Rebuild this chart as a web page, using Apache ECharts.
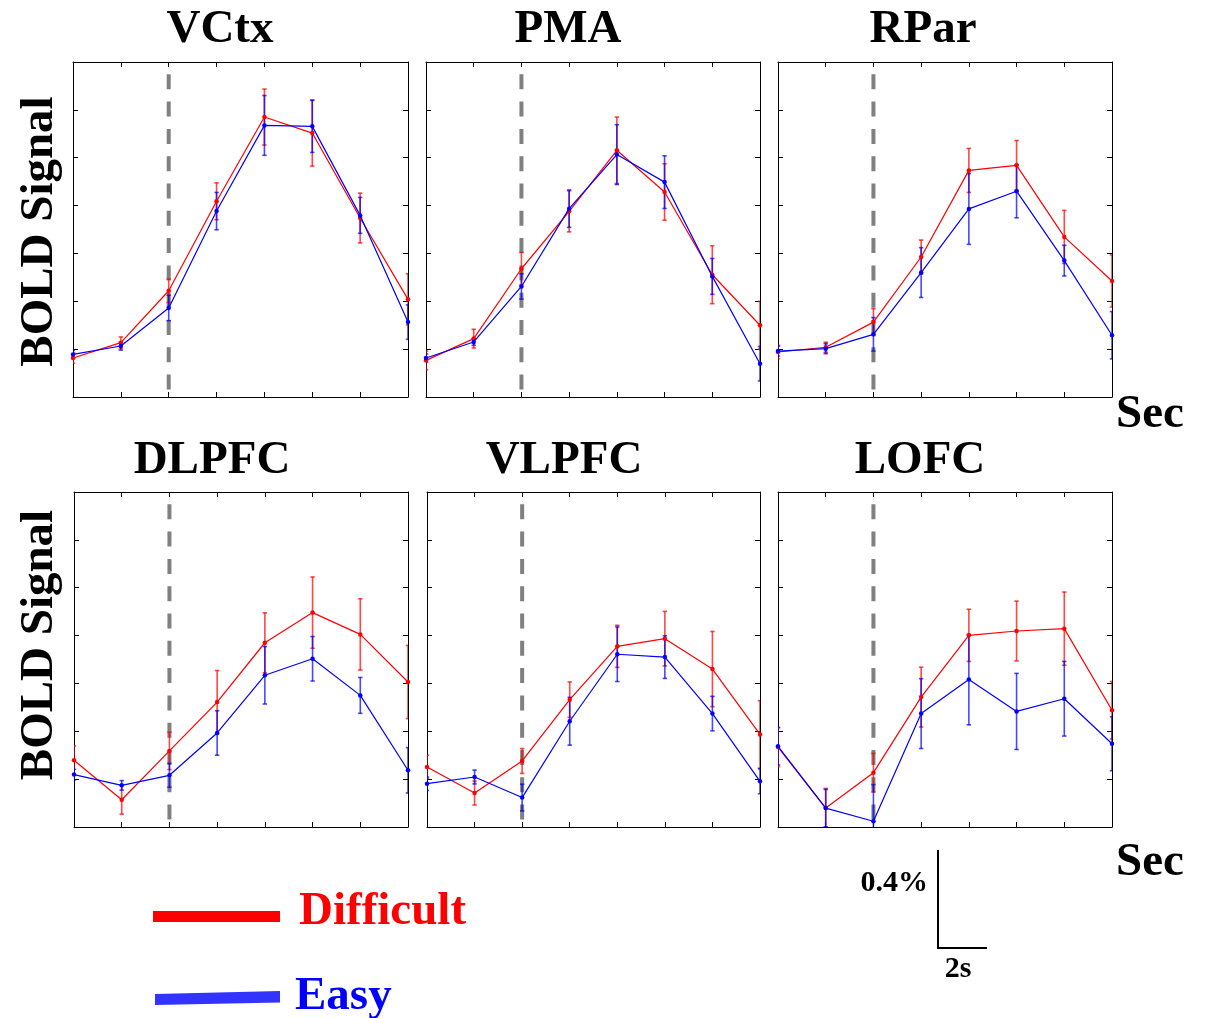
<!DOCTYPE html>
<html>
<head>
<meta charset="utf-8">
<script src="https://cdn.jsdelivr.net/npm/echarts@6/dist/echarts.min.js"></script>
<style>
html,body{margin:0;padding:0;background:#fff;}
#chart{width:1209px;height:1018px;}
</style>
</head>
<body>
<div id="chart"></div>
<script>
// ---- Data (BOLD % signal change, time in seconds) ----
const timeSec = [0, 2, 4, 6, 8, 10, 12, 14];
const onsetSec = 4;
const regions = ['VCtx', 'PMA', 'RPar', 'DLPFC', 'VLPFC', 'LOFC'];

const vctxDifficult    = [0.163, 0.227, 0.444, 0.818, 1.170, 1.103, 0.748, 0.408];
const vctxDifficultErr = [0.022, 0.024, 0.049, 0.077, 0.117, 0.138, 0.104, 0.107];
const vctxEasy         = [0.178, 0.213, 0.372, 0.777, 1.135, 1.131, 0.759, 0.313];
const vctxEasyErr      = [0.017, 0.017, 0.053, 0.078, 0.125, 0.109, 0.075, 0.072];

const pmaDifficult     = [0.153, 0.244, 0.536, 0.776, 1.031, 0.857, 0.511, 0.300];
const pmaDifficultErr  = [0.039, 0.039, 0.068, 0.086, 0.139, 0.118, 0.121, 0.100];
const pmaEasy          = [0.163, 0.230, 0.462, 0.787, 1.013, 0.898, 0.504, 0.139];
const pmaEasyErr       = [0.017, 0.014, 0.053, 0.078, 0.125, 0.110, 0.075, 0.072];

const rparDifficult    = [0.188, 0.208, 0.313, 0.585, 0.947, 0.968, 0.669, 0.485];
const rparDifficultErr = [0.028, 0.021, 0.056, 0.071, 0.092, 0.104, 0.111, 0.109];
const rparEasy         = [0.192, 0.202, 0.262, 0.520, 0.786, 0.860, 0.570, 0.258];
const rparEasyErr      = [0.021, 0.021, 0.070, 0.104, 0.148, 0.111, 0.064, 0.099];

const dlpfcDifficult    = [0.279, 0.114, 0.318, 0.522, 0.770, 0.896, 0.805, 0.606];
const dlpfcDifficultErr = [0.060, 0.060, 0.078, 0.132, 0.125, 0.149, 0.149, 0.153];
const dlpfcEasy         = [0.219, 0.174, 0.216, 0.393, 0.634, 0.703, 0.550, 0.237];
const dlpfcEasyErr      = [0.022, 0.020, 0.050, 0.093, 0.120, 0.093, 0.075, 0.095];

const vlpfcDifficult    = [0.251, 0.142, 0.276, 0.532, 0.755, 0.787, 0.660, 0.387];
const vlpfcDifficultErr = [0.049, 0.050, 0.052, 0.074, 0.088, 0.114, 0.157, 0.141];
const vlpfcEasy         = [0.181, 0.209, 0.123, 0.442, 0.722, 0.710, 0.474, 0.191];
const vlpfcEasyErr      = [0.028, 0.029, 0.056, 0.100, 0.114, 0.089, 0.072, 0.052];

const lofcDifficult    = [0.334, 0.079, 0.227, 0.543, 0.801, 0.819, 0.829, 0.488];
const lofcDifficultErr = [0.082, 0.082, 0.081, 0.125, 0.109, 0.125, 0.153, 0.120];
const lofcEasy         = [0.337, 0.079, 0.024, 0.474, 0.616, 0.483, 0.536, 0.348];
const lofcEasyErr      = [0.078, 0.078, 0.153, 0.146, 0.189, 0.159, 0.156, 0.113];

const yMin = 0, yMax = 1.4, yStep = 0.2;
const xMin = 0, xMax = 14, xStep = 2;

const difficultSets = [vctxDifficult, pmaDifficult, rparDifficult, dlpfcDifficult, vlpfcDifficult, lofcDifficult];
const difficultErrs = [vctxDifficultErr, pmaDifficultErr, rparDifficultErr, dlpfcDifficultErr, vlpfcDifficultErr, lofcDifficultErr];
const easySets = [vctxEasy, pmaEasy, rparEasy, dlpfcEasy, vlpfcEasy, lofcEasy];
const easyErrs = [vctxEasyErr, pmaEasyErr, rparEasyErr, dlpfcEasyErr, vlpfcEasyErr, lofcEasyErr];

// ---- Layout ----
const gridBoxes = [
  {left: 73,  top: 62,  width: 335, height: 335},
  {left: 426, top: 62,  width: 334, height: 335},
  {left: 778, top: 62,  width: 334, height: 335},
  {left: 74,  top: 492, width: 334, height: 335},
  {left: 427, top: 492, width: 333, height: 335},
  {left: 778, top: 492, width: 334, height: 335}
];
const titleCenters = [[220, 29.5], [568, 29.5], [923, 29.5], [212, 461], [564, 461], [920, 461]];

const RED = '#ff0000', BLUE = '#0000ff';
const SERIF = '"Liberation Serif", "Times New Roman", serif';

const grids = [], xAxes = [], yAxes = [], series = [];

function axisCommon(extra) {
  return Object.assign({
    type: 'value',
    axisLabel: {show: false},
    splitLine: {show: false},
    axisTick: {show: true, inside: true, length: 5, lineStyle: {color: '#000', width: 1}},
    axisLine: {show: true, onZero: false, lineStyle: {color: '#000', width: 1}}
  }, extra);
}

function errRender(color) {
  return function (params, api) {
    const x = api.value(0), v = api.value(1), e = api.value(2);
    const t = api.coord([x, v + e]);
    const b = api.coord([x, v - e]);
    const hw = 2.2;
    const st = {stroke: color, lineWidth: 1.6, opacity: 0.72};
    return {
      type: 'group',
      children: [
        {type: 'line', shape: {x1: t[0], y1: t[1], x2: b[0], y2: b[1]}, style: st},
        {type: 'line', shape: {x1: t[0] - hw, y1: t[1], x2: t[0] + hw, y2: t[1]}, style: st},
        {type: 'line', shape: {x1: b[0] - hw, y1: b[1], x2: b[0] + hw, y2: b[1]}, style: st}
      ]
    };
  };
}

regions.forEach(function (name, i) {
  grids.push(Object.assign({containLabel: false}, gridBoxes[i]));
  const xb = xAxes.length;
  xAxes.push(axisCommon({gridIndex: i, position: 'bottom', min: xMin, max: xMax, interval: xStep}));
  xAxes.push(axisCommon({gridIndex: i, position: 'top', min: xMin, max: xMax, interval: xStep}));
  const yb = yAxes.length;
  yAxes.push(axisCommon({gridIndex: i, position: 'left', min: yMin, max: yMax, interval: yStep}));
  yAxes.push(axisCommon({gridIndex: i, position: 'right', min: yMin, max: yMax, interval: yStep}));

  // stimulus onset dashed line
  series.push({
    type: 'line', xAxisIndex: xb, yAxisIndex: yb, silent: true, symbol: 'none', z: 1,
    data: [[onsetSec, yMax], [onsetSec, yMin]],
    lineStyle: {color: '#808080', width: 4, type: [15, 12.3], dashOffset: 15}
  });

  const dd = timeSec.map((t, k) => [t, difficultSets[i][k], difficultErrs[i][k]]);
  const ed = timeSec.map((t, k) => [t, easySets[i][k], easyErrs[i][k]]);

  series.push({type: 'custom', xAxisIndex: xb, yAxisIndex: yb, clip: true, z: 2,
    renderItem: errRender(RED), encode: {x: 0, y: 1}, data: dd});
  series.push({type: 'custom', xAxisIndex: xb, yAxisIndex: yb, clip: true, z: 2,
    renderItem: errRender(BLUE), encode: {x: 0, y: 1}, data: ed});
  series.push({type: 'line', name: 'Difficult', xAxisIndex: xb, yAxisIndex: yb, z: 3,
    data: dd.map(d => [d[0], d[1]]), symbol: 'circle', symbolSize: 4.5, clip: false,
    lineStyle: {color: RED, width: 1.2}, itemStyle: {color: RED}, animation: false});
  series.push({type: 'line', name: 'Easy', xAxisIndex: xb, yAxisIndex: yb, z: 4,
    data: ed.map(d => [d[0], d[1]]), symbol: 'circle', symbolSize: 4.5, clip: false,
    lineStyle: {color: BLUE, width: 1.2}, itemStyle: {color: BLUE}, animation: false});
});

function txt(text, x, y, size, opts) {
  return Object.assign({
    type: 'text', x: x, y: y, silent: true,
    style: Object.assign({
      text: text, font: 'bold ' + size + 'px ' + SERIF, fill: '#000',
      textAlign: 'center', textVerticalAlign: 'middle', verticalAlign: 'middle'
    }, (opts && opts.style) || {})
  }, (opts && opts.el) || {});
}

const graphics = [];
regions.forEach(function (name, i) {
  graphics.push(txt(name, titleCenters[i][0], titleCenters[i][1], 47));
});
graphics.push(txt('BOLD Signal', 40, 231.5, 47, {el: {rotation: Math.PI / 2}}));
graphics.push(txt('BOLD Signal', 40, 645, 47, {el: {rotation: Math.PI / 2}}));
graphics.push(txt('Sec', 1150, 414.5, 47));
graphics.push(txt('Sec', 1150, 863, 47));

// legend
graphics.push({type: 'rect', silent: true, shape: {x: 153, y: 911, width: 127, height: 11}, style: {fill: RED}});
graphics.push({type: 'polygon', silent: true, shape: {points: [[155, 994], [280, 991], [280, 1002.5], [155, 1005]]}, style: {fill: '#3333ff'}});
graphics.push(txt('Difficult', 299, 912, 47, {style: {textAlign: 'left', fill: RED}}));
graphics.push(txt('Easy', 295, 997, 47, {style: {textAlign: 'left', fill: BLUE}}));

// scale bar
graphics.push({type: 'polyline', silent: true, shape: {points: [[938, 850], [938, 948], [987, 948]]}, style: {stroke: '#000', lineWidth: 2, fill: null}});
graphics.push(txt('0.4%', 928, 883, 30, {style: {textAlign: 'right'}}));
graphics.push(txt('2s', 958, 969, 30));

const chart = echarts.init(document.getElementById('chart'), null, {renderer: 'canvas'});
chart.setOption({
  animation: false,
  backgroundColor: '#fff',
  grid: grids,
  xAxis: xAxes,
  yAxis: yAxes,
  series: series,
  graphic: graphics
});
</script>
</body>
</html>
